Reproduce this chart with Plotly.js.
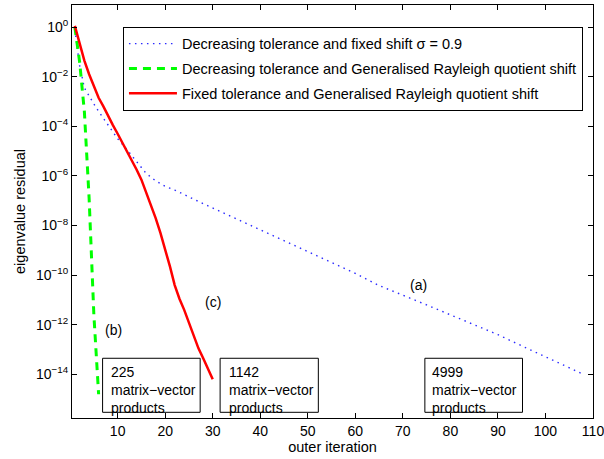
<!DOCTYPE html>
<html>
<head>
<meta charset="utf-8">
<script src="https://cdn.plot.ly/plotly-3.0.1.min.js"></script>
<style>html,body{margin:0;padding:0;background:#fff;}#chart{width:604px;height:459px;}</style>
</head>
<body>
<div id="chart"></div>
<script>
// ---- data ----
const seriesNames = [
  'Decreasing tolerance and fixed shift σ = 0.9',
  'Decreasing tolerance and Generalised Rayleigh quotient shift',
  'Fixed tolerance and Generalised Rayleigh quotient shift'
];
const blueIter = [1,2,3,4,5,6,8,10,12,14,16,18,20,22,25,28,32,36,40,45,50,55,60,65,70,75,80,85,90,95,100,104,108];
const blueResidual = [0.794,0.0282,3.55e-3,1.58e-3,7.94e-4,3.98e-4,1.12e-4,3.16e-5,1.12e-5,3.55e-6,1.26e-6,6.31e-7,3.8e-7,2.69e-7,1.41e-7,7.59e-8,3.39e-8,1.51e-8,6.76e-9,2.51e-9,8.91e-10,3.16e-10,1.17e-10,3.8e-11,1.58e-11,6.31e-12,2.51e-12,1e-12,3.98e-13,1.41e-13,5.01e-14,2.24e-14,1e-14];
const greenIter = [1,2,3,4,5,6];
const greenResidual = [1.0,0.0398,3.98e-4,1.26e-7,2.51e-12,1.58e-15];
const redIter = [1,2,3,4,5,6,7,8,9,10,11,12,13,14,15,16,17,18,19,20,21,22,23,24,25,26,27,28,29,30];
const redResidual = [1.12,0.224,0.0447,0.0126,3.98e-3,1.41e-3,6.31e-4,2.51e-4,1.12e-4,5.01e-5,2.24e-5,1e-5,4.47e-6,1.78e-6,7.08e-7,2.24e-7,7.08e-8,2.0e-8,5.01e-9,1.12e-9,2.24e-10,3.98e-11,1.12e-11,3.98e-12,1.26e-12,3.55e-13,1.12e-13,4.47e-14,1.78e-14,6.31e-15];
const yTickVals = [1,1e-2,1e-4,1e-6,1e-8,1e-10,1e-12,1e-14];
const yTickText = ['10<sup>0</sup>','10<sup>−2</sup>','10<sup>−4</sup>','10<sup>−6</sup>','10<sup>−8</sup>','10<sup>−10</sup>','10<sup>−12</sup>','10<sup>−14</sup>'];
const curveLabels = ['(a)','(b)','(c)'];
const curveLabelX = [73.2, 9.2, 30.0];
const curveLabelLogY = [-10.4, -12.2, -11.1];
const boxTexts = ['225<br>matrix−vector<br>products','1142<br>matrix−vector<br>products','4999<br>matrix−vector<br>products'];

const FONT = 'Liberation Sans, Arial, Helvetica, sans-serif';

const traces = [
  {x: blueIter, y: blueResidual, name: seriesNames[0], legendgroup: 'a', mode: 'lines',
   line: {color: '#2a2aff', width: 1.4, dash: '1.5px,4.5px'}},
  {x: greenIter, y: greenResidual, name: seriesNames[1], legendgroup: 'b', mode: 'lines',
   line: {color: '#00ff00', width: 3, dash: '8px,6px'}},
  {x: redIter, y: redResidual, name: seriesNames[2], legendgroup: 'c', mode: 'lines',
   line: {color: '#ff0000', width: 2.5}}
];

const boxX = [[0.0587,0.246],[0.2843,0.4728],[0.6773,0.8647]];
const shapes = boxX.map(b => ({type:'rect', xref:'paper', yref:'paper', x0:b[0], x1:b[1], y0:0.0138, y1:0.1446,
  line:{color:'#000', width:1}, fillcolor:'rgba(255,255,255,0)'}));

const textX = [0.0734, 0.299, 0.690];
const annotations = [];
boxTexts.forEach((t,i) => annotations.push({xref:'paper', yref:'paper', x:textX[i], y:0.133, xanchor:'left', yanchor:'top',
  text:t, align:'left', showarrow:false, borderpad:0, font:{family:FONT, size:14, color:'#000'}}));
curveLabels.forEach((t,i) => annotations.push({xref:'x', yref:'y', x:curveLabelX[i], y:curveLabelLogY[i],
  text:t, showarrow:false, font:{family:FONT, size:14, color:'#000'}}));

const layout = {
  width: 604, height: 459,
  margin: {l:72, r:11, t:5, b:41},
  paper_bgcolor: '#fff', plot_bgcolor: '#fff',
  font: {family: FONT, size: 14, color: '#000'},
  showlegend: true,
  legend: {x:0.0978, y:0.9475, xanchor:'left', yanchor:'top', bgcolor:'#fff', bordercolor:'#000', borderwidth:1,
    font:{family:FONT, size:14.5, color:'#000'}, tracegroupgap: 3, itemwidth: 48},
  xaxis: {range:[0.4,110], tickmode:'linear', tick0:10, dtick:10, ticks:'inside', ticklen:5, tickcolor:'#000',
    showline:true, linecolor:'#000', linewidth:1, mirror:'ticks', showgrid:false, zeroline:false,
    ticklabeloverflow:'allow',
    tickfont:{family:FONT, size:14}, title:{text:'outer iteration', font:{family:FONT, size:14.5}, standoff:2}},
  yaxis: {type:'log', range:[-15.76,0.89], tickvals:yTickVals, ticktext:yTickText, ticks:'inside', ticklen:5, tickcolor:'#000',
    showline:true, linecolor:'#000', linewidth:1, mirror:'ticks', showgrid:false, zeroline:false,
    tickfont:{family:FONT, size:14}, title:{text:'eigenvalue residual', font:{family:FONT, size:14.5}, standoff:6}},
  shapes: shapes,
  annotations: annotations
};

Plotly.newPlot('chart', traces, layout, {displayModeBar:false, staticPlot:true});
</script>
</body>
</html>
